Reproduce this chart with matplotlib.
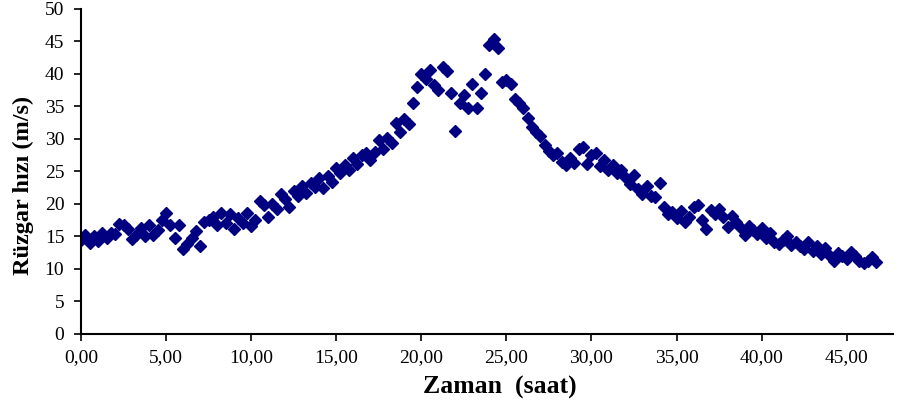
import matplotlib.pyplot as plt
from matplotlib.ticker import FuncFormatter

# time (hours) and wind speed (m/s)
hours = [
    0.00, 0.25, 0.50, 0.75, 1.00, 1.25, 1.50, 1.75, 2.00, 2.25, 2.50, 2.75,
    3.00, 3.25, 3.50, 3.75, 4.00, 4.25, 4.50, 4.75, 5.00, 5.25, 5.50, 5.75,
    6.00, 6.25, 6.50, 6.75, 7.00, 7.25, 7.50, 7.75, 8.00, 8.25, 8.50, 8.75,
    9.00, 9.25, 9.50, 9.75, 10.00, 10.25, 10.50, 10.75, 11.00, 11.25, 11.50, 11.75,
    12.00, 12.25, 12.50, 12.75, 13.00, 13.25, 13.50, 13.75, 14.00, 14.25, 14.50, 14.75,
    15.00, 15.25, 15.50, 15.75, 16.00, 16.25, 16.50, 16.75, 17.00, 17.25, 17.50, 17.75,
    18.00, 18.25, 18.50, 18.75, 19.00, 19.25, 19.50, 19.75, 20.00, 20.25, 20.50, 20.75,
    21.00, 21.25, 21.50, 21.75, 22.00, 22.25, 22.50, 22.75, 23.00, 23.25, 23.50, 23.75,
    24.00, 24.25, 24.50, 24.75, 25.00, 25.25, 25.50, 25.75, 26.00, 26.25, 26.50, 26.75,
    27.00, 27.25, 27.50, 27.75, 28.00, 28.25, 28.50, 28.75, 29.00, 29.25, 29.50, 29.75,
    30.00, 30.25, 30.50, 30.75, 31.00, 31.25, 31.50, 31.75, 32.00, 32.25, 32.50, 32.75,
    33.00, 33.25, 33.50, 33.75, 34.00, 34.25, 34.50, 34.75, 35.00, 35.25, 35.50, 35.75,
    36.00, 36.25, 36.50, 36.75, 37.00, 37.25, 37.50, 37.75, 38.00, 38.25, 38.50, 38.75,
    39.00, 39.25, 39.50, 39.75, 40.00, 40.25, 40.50, 40.75, 41.00, 41.25, 41.50, 41.75,
    42.00, 42.25, 42.50, 42.75, 43.00, 43.25, 43.50, 43.75, 44.00, 44.25, 44.50, 44.75,
    45.00, 45.25, 45.50, 45.75, 46.00, 46.25, 46.50, 46.75,
]
speed = [
    14.5, 15.3, 14.0, 15.0, 14.3, 15.5, 14.8, 15.6, 15.4, 16.9, 16.8, 16.2,
    14.6, 15.2, 16.3, 15.0, 16.8, 15.3, 16.0, 17.5, 18.6, 16.8, 14.8, 16.7,
    13.0, 13.8, 14.7, 15.8, 13.5, 17.3, 17.6, 18.0, 16.8, 18.6, 17.0, 18.4,
    16.2, 17.8, 17.0, 18.6, 16.6, 17.5, 20.5, 19.8, 18.0, 20.0, 19.2, 21.5,
    20.8, 19.6, 22.0, 21.2, 22.8, 21.7, 23.3, 22.6, 24.0, 22.5, 24.3, 23.4,
    25.5, 24.8, 26.0, 25.2, 27.0, 26.2, 27.5, 27.8, 26.8, 28.0, 29.8, 28.4,
    30.2, 29.4, 32.4, 31.0, 33.0, 32.3, 35.5, 38.0, 40.0, 39.3, 40.6, 38.3,
    37.6, 41.0, 40.5, 37.0, 31.2, 35.5, 36.8, 34.8, 38.5, 34.8, 37.0, 40.0,
    44.5, 45.4, 44.0, 38.8, 39.0, 38.5, 36.2, 35.5, 34.8, 33.3, 31.8, 31.0,
    30.5, 29.0, 28.2, 27.5, 27.8, 26.5, 26.0, 27.0, 26.3, 28.5, 28.8, 26.2,
    27.5, 27.8, 25.8, 26.7, 25.2, 26.0, 24.8, 25.3, 24.2, 23.0, 24.5, 22.3,
    21.5, 22.8, 21.2, 21.0, 23.3, 19.5, 18.5, 18.8, 17.8, 18.9, 17.2, 18.0,
    19.5, 19.8, 17.5, 16.2, 19.0, 18.4, 19.3, 18.0, 16.4, 18.2, 17.2, 16.5,
    15.3, 16.6, 16.0, 15.4, 16.3, 14.7, 15.6, 14.2, 13.8, 14.5, 15.0, 13.7,
    14.2, 13.6, 13.0, 14.2, 12.8, 13.6, 12.3, 13.2, 12.0, 11.3, 12.4, 12.0,
    11.6, 12.6, 12.0, 11.2, 10.9, 11.3, 11.8, 11.1,
]
xticks = [0, 5, 10, 15, 20, 25, 30, 35, 40, 45]
yticks = [0, 5, 10, 15, 20, 25, 30, 35, 40, 45, 50]

plt.rcParams['font.family'] = ['Liberation Serif', 'DejaVu Serif']

fig = plt.figure(figsize=(8.98, 4.09), dpi=100)
ax = fig.add_axes([0.0902, 0.1834, 0.9038, 0.7946])
ax.plot(hours, speed, linestyle='none', marker='D', markersize=5.8,
        color='#000080', markeredgecolor='#000080')

ax.set_xlim(0, 47.7)
ax.set_ylim(0, 50)
ax.set_xticks(xticks)
ax.set_yticks(yticks)
ax.xaxis.set_major_formatter(FuncFormatter(lambda v, p: f"{v:.2f}".replace('.', ',')))
ax.tick_params(axis='both', direction='out', length=5, width=1.2, labelsize=14, colors='black')
ax.tick_params(axis='x', pad=6)
ax.tick_params(axis='y', pad=7)
for s in ['top', 'right']:
    ax.spines[s].set_visible(False)
for s in ['left', 'bottom']:
    ax.spines[s].set_linewidth(1.5)

ax.set_xlabel('Zaman  (saat)', fontsize=18.5, fontweight='bold')
ax.set_ylabel('Rüzgar hızı (m/s)', fontsize=17.5, fontweight='bold')
ax.xaxis.set_label_coords(0.516, -0.13)
ax.yaxis.set_label_coords(-0.058, 0.458)

fig.savefig('out.png', dpi=100)
